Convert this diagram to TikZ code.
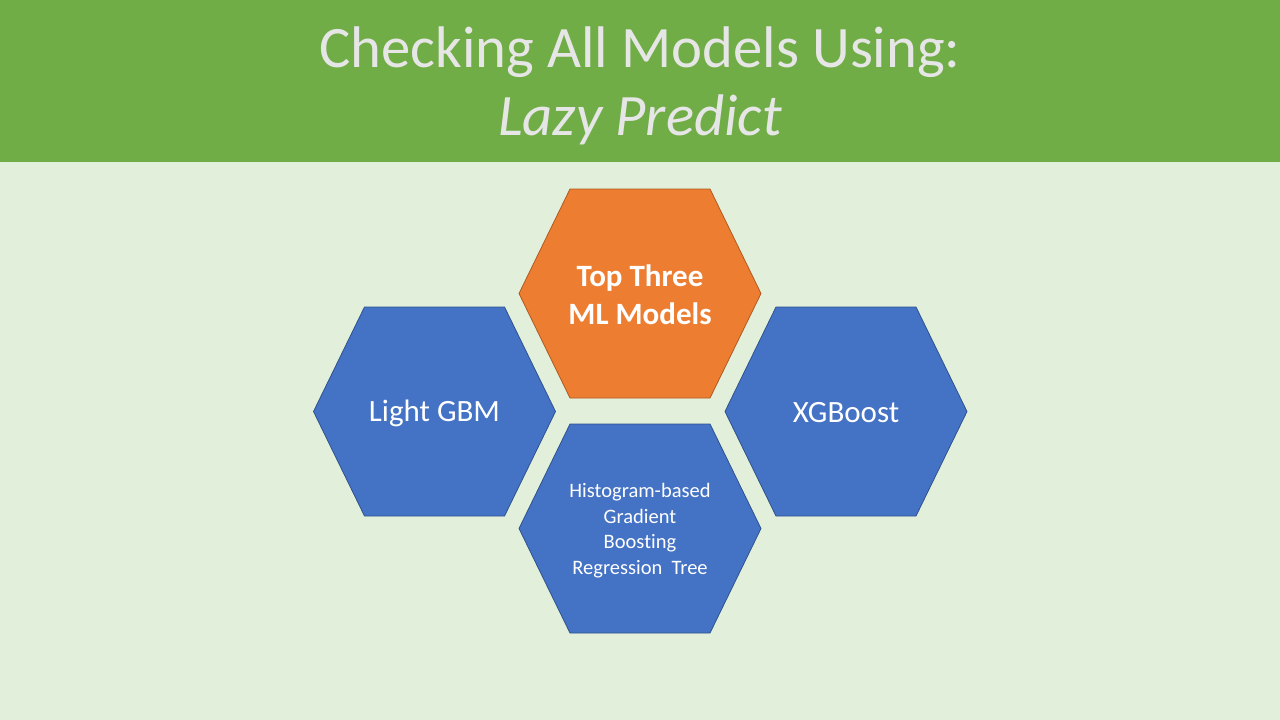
\documentclass[tikz,border=0pt]{standalone}
\usepackage{fontspec}
\setmainfont{Carlito}[Ligatures=NoCommon]
\definecolor{hdrgreen}{HTML}{70AD47}
\definecolor{bggreen}{HTML}{E2EFDA}
\definecolor{ttlgray}{HTML}{E7E6E6}
\definecolor{hexblue}{HTML}{4472C4}
\definecolor{hexblueln}{HTML}{2F528F}
\definecolor{hexorange}{HTML}{ED7D31}
\definecolor{hexorangeln}{HTML}{AE5A21}
\newcommand{\hexpath}[2]{(#1-121,#2) -- (#1-70,#2-104.5) -- (#1+70,#2-104.5) -- (#1+121,#2) -- (#1+70,#2+104.5) -- (#1-70,#2+104.5) -- cycle}
\begin{document}
\begin{tikzpicture}[x=1pt,y=-1pt,
  bluehex/.style={fill=hexblue,draw=hexblueln,line width=0.8pt},
  orangehex/.style={fill=hexorange,draw=hexorangeln,line width=0.8pt},
  hextext/.style={text=white,align=center,inner sep=0pt}]
\useasboundingbox (0,0) rectangle (1280,720);
\fill[bggreen] (0,0) rectangle (1280,720);
\fill[hdrgreen] (0,0) rectangle (1280,162);
\node[text=ttlgray,align=center,inner sep=0pt,font=\fontsize{58.7}{68}\selectfont] (title) at (640,86) {Checking All Models Using:\\\textit{Lazy Predict}};
\path[orangehex] \hexpath{640}{293.5};
\path[bluehex] \hexpath{434.5}{411.5};
\path[bluehex] \hexpath{846}{411.5};
\path[bluehex] \hexpath{640}{528.5};
\node[hextext,font=\bfseries\fontsize{31}{38}\selectfont] (top) at (640,295) {Top Three\\ML Models};
\node[hextext,font=\fontsize{31}{38}\selectfont] (lgbm) at (434.5,413) {Light GBM};
\node[hextext,font=\fontsize{31}{38}\selectfont] (xgb) at (846,413) {XGBoost};
\node[hextext,font=\fontsize{20.5}{25.5}\selectfont] (hgb) at (640,530.5) {Histogram-based\\Gradient\\Boosting\\Regression\ \ Tree};
\end{tikzpicture}
\end{document}
